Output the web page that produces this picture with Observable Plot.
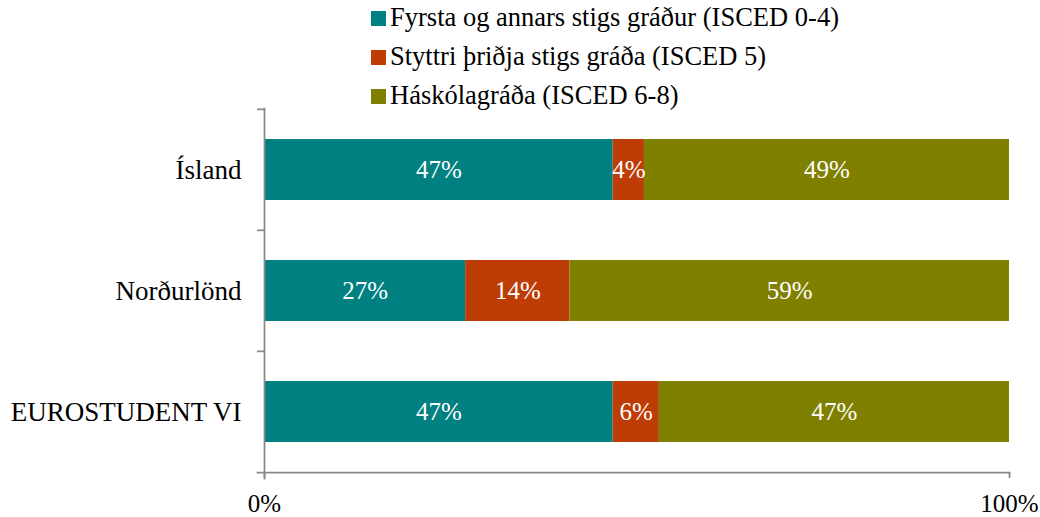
<!DOCTYPE html>
<html><head><meta charset="utf-8">
<script src="https://cdn.jsdelivr.net/npm/d3@7"></script>
<script src="https://cdn.jsdelivr.net/npm/@observablehq/plot@0.6"></script>
<style>
body{margin:0;background:#fff;font-family:"Liberation Serif","Times New Roman",serif;}
#legend{position:relative;z-index:1;height:106px;padding-left:371px;box-sizing:border-box;font-size:26.5px;line-height:39px;color:#000;white-space:nowrap;overflow:visible;}
#legend > div{position:relative;top:-2px;}
.sw{display:inline-block;width:15px;height:15px;margin-right:4px;}
#chart svg{display:block;overflow:visible;}
</style></head><body><div id="legend"></div><div id="chart"></div>
<script>
const countries = ["Ísland", "Norðurlönd", "EUROSTUDENT VI"];
const levels = ["Fyrsta og annars stigs gráður (ISCED 0-4)", "Styttri þriðja stigs gráða (ISCED 5)", "Háskólagráða (ISCED 6-8)"];
const colors = ["#008080", "#BE3C06", "#808000"];
const primary = [46.8, 27.0, 46.8];
const shortTertiary = [4.2, 14.0, 6.2];
const university = [49.0, 59.0, 47.0];
const xTicks = [0, 100];

const series = [primary, shortTertiary, university];
const rows = [];
countries.forEach((c, i) => levels.forEach((l, j) => rows.push({country: c, level: l, value: series[j][i]})));

const legend = document.getElementById("legend");
levels.forEach((l, j) => {
  const row = document.createElement("div");
  const sw = document.createElement("span");
  sw.className = "sw"; sw.style.background = colors[j];
  row.appendChild(sw);
  row.appendChild(document.createTextNode(l));
  legend.appendChild(row);
});

const W = 1040, H = 411, mt = 2, mb = 45, ml = 264, mr = 31;
const step = (H - mt - mb) / countries.length;
const gray = "#898989";
const chart = Plot.plot({
  width: W, height: H, marginTop: mt, marginBottom: mb, marginLeft: ml, marginRight: mr,
  style: {fontFamily: "'Liberation Serif','Times New Roman',serif", fontSize: "25px", background: "transparent", color: "black"},
  x: {domain: [0, 100], axis: null, label: null},
  y: {domain: countries, paddingInner: 0.5, paddingOuter: 0.25, axis: null, label: null},
  color: {domain: levels, range: colors},
  marks: [
    Plot.barX(rows, Plot.stackX({x: "value", y: "country", fill: "level", order: levels})),
    Plot.text(rows, Plot.stackX({x: "value", y: "country", z: "level", order: levels, text: d => Math.round(d.value) + "%", fill: "white", fontSize: 25})),
    Plot.axisY({tickSize: 0, tickPadding: 23, fontSize: 27, fill: "black", label: null}),
    Plot.axisY({tickSize: 7, stroke: gray, strokeWidth: 1.75, fill: "none", dy: -step / 2, label: null}),
    Plot.frame({anchor: "left", stroke: gray, strokeWidth: 1.75, insetBottom: -6}),
    Plot.frame({anchor: "bottom", stroke: gray, strokeWidth: 1.75, insetLeft: -7}),
    Plot.axisX({ticks: xTicks, tickFormat: d => d + "%", tickSize: 6, tickPadding: 16, stroke: gray, strokeWidth: 1.75, fill: "black", fontSize: 25, label: null})
  ]
});
document.getElementById("chart").appendChild(chart);
</script></body></html>
